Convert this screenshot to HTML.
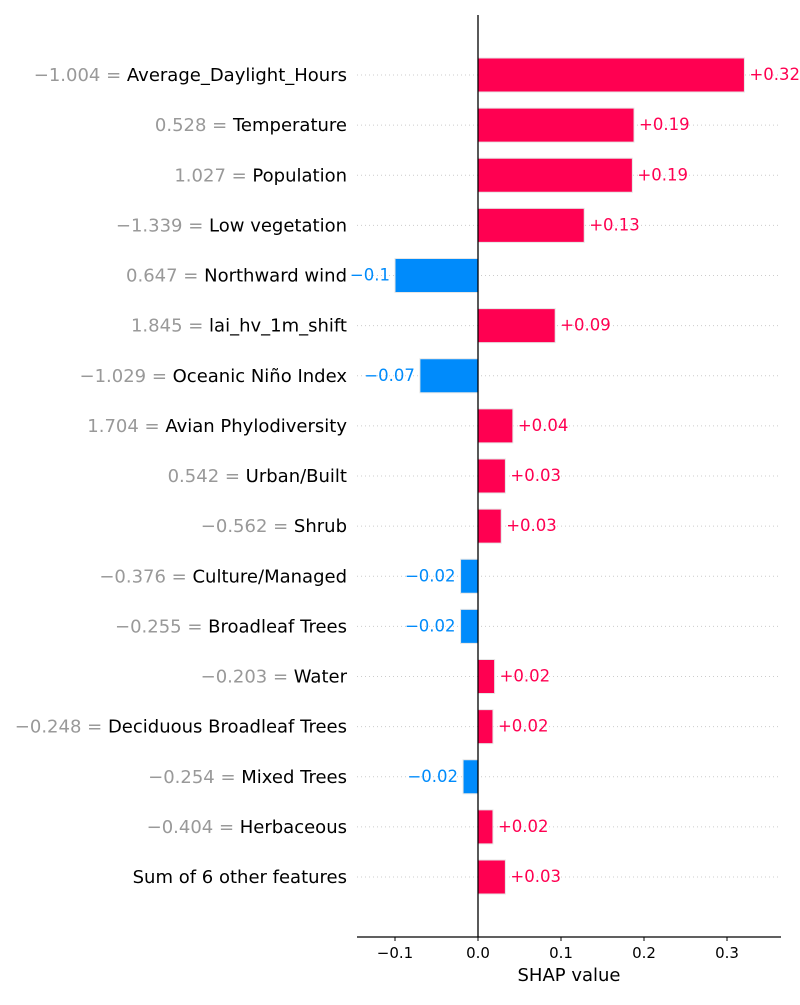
<!DOCTYPE html>
<html><head><meta charset="utf-8"><style>
body{margin:0;background:#fff;}
svg text{font-family:"DejaVu Sans","Liberation Sans",sans-serif;}
</style></head><body>
<svg id="chart" width="800" height="1000" xmlns="http://www.w3.org/2000/svg"></svg>
<script>
const featureValues=["\u22121.004","0.528","1.027","\u22121.339","0.647","1.845","\u22121.029","1.704","0.542","\u22120.562","\u22120.376","\u22120.255","\u22120.203","\u22120.248","\u22120.254","\u22120.404",""];
const featureNames=["Average_Daylight_Hours","Temperature","Population","Low vegetation","Northward wind","lai_hv_1m_shift","Oceanic Niño Index","Avian Phylodiversity","Urban/Built","Shrub","Culture/Managed","Broadleaf Trees","Water","Deciduous Broadleaf Trees","Mixed Trees","Herbaceous","Sum of 6 other features"];
const shapValues=[0.321,0.188,0.186,0.128,-0.1,0.093,-0.07,0.042,0.033,0.028,-0.021,-0.021,0.02,0.018,-0.018,0.018,0.033];
const valueLabels=["+0.32","+0.19","+0.19","+0.13","\u22120.1","+0.09","\u22120.07","+0.04","+0.03","+0.03","\u22120.02","\u22120.02","+0.02","+0.02","\u22120.02","+0.02","+0.03"];
const xTicks=[-0.1,0,0.1,0.2,0.3];
const xTickLabels=["\u22120.1","0.0","0.1","0.2","0.3"];

const svg=document.getElementById('chart');
const NS='http://www.w3.org/2000/svg';
const X0=478,PX=830;
const xs=v=>X0+v*PX;
const ys=i=>75+i*50.125;
function mk(tag,attrs,text){const e=document.createElementNS(NS,tag);for(const k in attrs)e.setAttribute(k,attrs[k]);if(text!==undefined)e.textContent=text;svg.appendChild(e);return e;}

featureNames.forEach((n,i)=>{
  const y=ys(i),v=shapValues[i],pos=v>=0;
  const g=mk('line',{x1:357,x2:781,y1:y,y2:y,stroke:'#ccc','stroke-width':1,'stroke-dasharray':'1,3'});
  
  
  const t=mk('text',{x:347,y:y+6,'text-anchor':'end','font-size':18});
  
  
  if(featureValues[i]){const s=document.createElementNS(NS,'tspan');s.setAttribute('fill','#999');s.textContent=featureValues[i]+' = ';t.appendChild(s);}
  const s2=document.createElementNS(NS,'tspan');s2.setAttribute('fill','#000');s2.textContent=n;t.appendChild(s2);
  const x1=Math.min(xs(0),xs(v)),w=Math.abs(xs(v)-xs(0));
  const b=mk('rect',{x:x1,y:y-17,width:w,height:34,fill:pos?'#ff0051':'#008bfb',stroke:'#e6e6e6','stroke-width':1});
  
  
  const l=mk('text',{x:pos?xs(v)+5:xs(v)-5,y:y+5,'text-anchor':pos?'start':'end','font-size':16.5,fill:pos?'#ff0051':'#008bfb'},valueLabels[i]);
  
  
});
const zl=mk('line',{x1:478,x2:478,y1:15,y2:937,stroke:'#000','stroke-width':1.3});


const ax=mk('line',{x1:357,x2:781,y1:937,y2:937,stroke:'#000','stroke-width':1.2});


xTicks.forEach((t,i)=>{
  const tk=mk('line',{x1:xs(t),x2:xs(t),y1:937,y2:941,stroke:'#000','stroke-width':1});
  
  
  const tl=mk('text',{x:xs(t),y:958,'text-anchor':'middle','font-size':15,fill:'#000'},xTickLabels[i]);
  
  
});
const xt=mk('text',{x:569,y:981,'text-anchor':'middle','font-size':18,fill:'#000'},'SHAP value');


</script>
</body></html>
